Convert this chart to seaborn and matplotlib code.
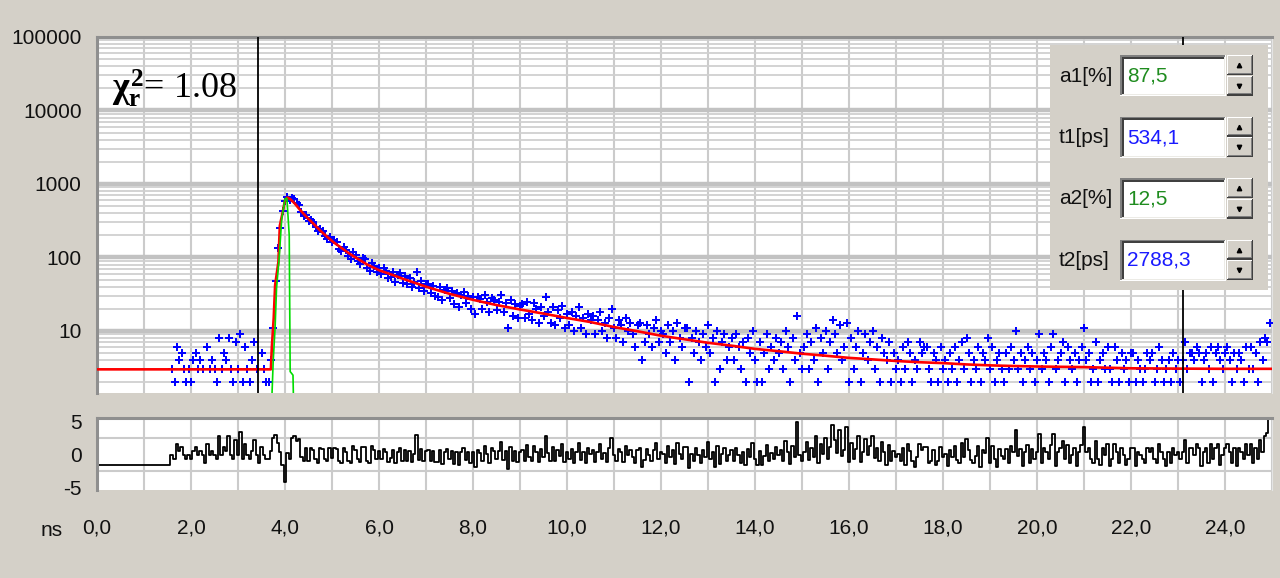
import numpy as np
import matplotlib
matplotlib.use("Agg")
import matplotlib.pyplot as plt
import matplotlib.ticker as mticker
from matplotlib.patches import Rectangle
import seaborn as sns

# ---------------------------------------------------
# data (TCSPC decay + fit)
# ---------------------------------------------------
channel_start = 1.60   # ns, first channel that holds counts
channel_width = 0.05   # ns

# 1.60 .. 3.70 ns, background before the pulse
counts_baseline = [3, 2, 6, 4, 5, 3, 2, 3, 2, 4,
                   5, 3, 4, 3, 1, 6, 3, 4, 3, 2,
                   8, 3, 5, 4, 8, 3, 2, 7, 3, 9,
                   2, 6, 3, 2, 4, 7, 3, 1, 5, 3,
                   2, 2, 4]
# 3.75 .. 4.00 ns, rising edge
counts_rise = [11, 48, 135, 250, 430, 580]
# 4.05 .. 24.95 ns, decay (10 channels per row = 0.5 ns)
counts_decay = [
    662, 612, 650, 615, 552, 512, 418, 371, 379, 316,
    327, 302, 258, 229, 247, 230, 194, 176, 191, 161,
    171, 160, 131, 121, 140, 126, 104, 96, 117, 108,
    90, 81, 99, 95, 72, 66, 85, 77, 63, 72,
    60, 71, 66, 52, 55, 63, 47, 58, 61, 45,
    56, 43, 52, 39, 47, 64, 38, 48, 35, 44,
    44, 33, 41, 30, 29, 39, 26, 36, 38, 28,
    35, 23, 33, 21, 31, 34, 24, 30, 20, 29,
    17, 29, 27, 20, 31, 25, 18, 28, 26, 19,
    25, 31, 18, 24, 11, 26, 16, 23, 15, 22,
    23, 15, 25, 17, 14, 24, 20, 13, 21, 16,
    29, 18, 13, 21, 12, 19, 15, 22, 11, 17,
    12, 18, 10, 16, 21, 11, 15, 9, 17, 14,
    16, 9, 14, 18, 10, 13, 8, 15, 20, 11,
    8, 14, 12, 7, 15, 10, 13, 9, 6, 12,
    13, 4, 7, 12, 9, 6, 11, 14, 7, 10,
    9, 5, 12, 7, 10, 4, 13, 8, 6, 11,
    11, 2, 8, 5, 10, 7, 4, 9, 6, 12,
    5, 8, 2, 10, 3, 7, 9, 4, 6, 8,
    4, 9, 6, 3, 7, 2, 8, 5, 10, 4,
    2, 7, 2, 5, 9, 3, 6, 4, 8, 5,
    7, 3, 10, 6, 2, 8, 4, 16, 5, 3,
    6, 9, 3, 7, 4, 11, 2, 8, 5, 10,
    3, 7, 14, 9, 5, 12, 4, 6, 13, 2,
    8, 3, 6, 10, 2, 5, 9, 4, 7, 10,
    3, 6, 2, 8, 5, 4, 7, 2, 5, 3,
    4, 2, 6, 3, 7, 5, 2, 4, 3, 7,
    5, 6, 6, 3, 2, 5, 4, 2, 6, 3,
    4, 2, 5, 3, 6, 2, 4, 7, 3, 8,
    5, 2, 4, 3, 6, 2, 5, 4, 8, 3,
    6, 2, 4, 5, 3, 2, 5, 3, 6, 4,
    10, 3, 5, 2, 4, 6, 3, 5, 2, 4,
    9, 3, 5, 4, 2, 6, 9, 3, 4, 5,
    7, 2, 6, 4, 3, 5, 2, 4, 6, 11,
    4, 5, 2, 3, 7, 2, 4, 5, 3, 6,
    3, 2, 6, 4, 2, 5, 3, 4, 2, 5,
    5, 2, 4, 3, 2, 3, 5, 4, 5, 2,
    3, 6, 4, 2, 3, 4, 2, 5, 3, 4,
    2, 4, 7, 3, 5, 5, 4, 6, 5, 2,
    4, 5, 3, 6, 2, 5, 6, 4, 3, 5,
    6, 4, 2, 5, 3, 5, 4, 2, 6, 3,
    6, 3, 5, 2, 7, 4, 8, 7, 13,
]

# weighted residuals, same channels
resid_flat_t = [0.0, 1.50]
resid_flat = [-1.6, -1.6]
resid_baseline = [0.0, -0.6, 1.7, 0.6, 1.2, 0.0, -0.6, 0.0, -0.6, 0.6,
                  1.2, 0.0, 0.6, 0.0, -1.2, 1.7, 0.0, 0.6, 0.0, -0.6,
                  2.9, 0.0, 1.2, 0.6, 2.9, 0.0, -0.6, 2.3, 0.0, 3.5,
                  -0.6, 1.7, 0.0, -0.6, 0.6, 2.3, 0.0, -1.2, 1.2, 0.0,
                  -0.6, -0.6, 0.6]
resid_rise = [2.6, 3.0, 1.8, 0.5, -1.5, -4.2]
resid_decay = [
    0.3, -0.7, 2.5, 2.8, 2.1, 2.4, -0.3, -1.0, 1.0, -1.0,
    1.0, 0.7, -0.7, -1.3, 1.0, 0.9, -0.6, -1.0, 1.0, -0.5,
    1.0, 0.9, -0.9, -1.2, 1.1, 0.5, -1.0, -1.3, 1.3, 0.8,
    -0.6, -1.1, 1.2, 1.2, -0.9, -1.3, 1.3, 0.7, -0.7, 0.6,
    -0.6, 0.9, 0.5, -1.1, -0.5, 0.7, -1.2, 0.5, 1.1, -0.9,
    0.8, -0.9, 0.6, -1.1, 0.2, 3.0, -0.8, 0.9, -0.9, 0.6,
    0.8, -0.9, 0.6, -1.1, -1.1, 0.7, -1.4, 0.4, 0.9, -0.7,
    0.6, -1.4, 0.5, -1.6, 0.4, 1.0, -0.8, 0.5, -1.3, 0.5,
    -1.8, 0.7, 0.3, -1.0, 1.3, 0.2, -1.2, 1.0, 0.6, -0.7,
    0.6, 1.9, -0.8, 0.6, -2.2, 1.2, -1.0, 0.6, -1.1, 0.5,
    0.8, -0.9, 1.5, -0.3, -1.0, 1.4, 0.5, -1.1, 0.9, -0.3,
    2.9, 0.3, -0.9, 1.2, -1.0, 0.8, -0.2, 1.7, -1.1, 0.5,
    -0.7, 0.9, -1.2, 0.4, 1.8, -0.8, 0.4, -1.2, 1.0, 0.2,
    0.8, -1.1, 0.4, 1.6, -0.7, 0.3, -1.1, 1.0, 2.5, -0.1,
    -0.9, 0.9, 0.4, -1.1, 1.4, -0.1, 0.8, -0.3, -1.3, 0.7,
    1.0, -1.8, -0.8, 0.9, -0.1, -1.0, 0.7, 1.8, -0.6, 0.5,
    0.2, -1.2, 1.3, -0.4, 0.7, -1.4, 1.8, 0.1, -0.6, 1.2,
    1.2, -2.0, 0.2, -0.9, 1.0, -0.1, -1.2, 0.7, -0.4, 1.9,
    -0.7, 0.5, -1.8, 1.3, -1.4, 0.2, 1.0, -0.9, -0.1, 0.7,
    -0.9, 1.1, 0.0, -1.2, 0.4, -1.6, 0.9, -0.3, 1.8, -0.7,
    -1.5, 0.6, -1.5, -0.2, 1.5, -1.0, 0.3, -0.6, 1.2, -0.1,
    0.8, -1.0, 2.1, 0.4, -1.4, 1.3, -0.4, 5.0, 0.0, -0.9,
    0.5, 1.9, -0.8, 1.0, -0.3, 2.9, -1.2, 1.6, 0.2, 2.5,
    -0.7, 1.2, 4.5, 2.2, 0.3, 3.7, -0.2, 0.8, 4.2, -1.1,
    1.8, -0.6, 0.9, 2.8, -1.1, 0.4, 2.4, -0.1, 1.4, 2.9,
    -0.5, 1.0, -1.0, 2.0, 0.5, -1.6, 1.5, -1.0, 0.6, -0.4,
    0.1, -0.9, 1.1, -1.5, 1.6, 0.6, -0.9, -1.8, -0.4, 1.7,
    0.7, 1.2, 1.2, -1.3, -0.9, 0.7, -1.6, -0.9, 1.2, -0.3,
    0.2, -1.7, 0.8, -0.3, 1.3, -0.8, -1.2, 1.8, -0.3, 2.4,
    0.8, -0.8, -1.3, -0.2, 1.4, -1.8, 0.8, 0.3, 2.5, -1.2,
    1.4, -0.7, -1.8, 0.9, -0.2, -0.7, 0.9, -1.2, 1.4, 0.4,
    3.7, -0.2, 0.9, -1.7, 0.4, 1.5, -1.2, 0.9, -0.7, 0.4,
    3.2, -1.2, 1.0, 0.4, -0.7, 1.5, 3.2, -1.7, 0.4, 1.0,
    2.1, -0.7, 1.5, -1.3, -0.1, 1.0, -1.7, 0.4, 1.5, 4.3,
    0.5, 1.0, -0.7, -1.2, 2.1, -0.7, -1.6, 1.0, -0.1, 1.6,
    -1.7, -0.6, 1.6, 0.5, -1.2, 1.1, -0.1, -1.6, -0.6, 1.1,
    1.1, -1.7, 0.5, -0.1, -0.6, -1.2, 1.1, 0.5, 1.1, -0.6,
    -1.2, 1.7, 0.5, -0.6, -1.7, 0.5, -1.2, 1.1, -0.1, 0.5,
    -0.6, 0.5, 2.2, -1.2, 1.1, 1.1, -0.1, 1.7, 1.1, -1.7,
    0.5, 1.1, -1.2, 1.7, -0.6, 1.1, 1.7, -1.6, -0.1, 1.1,
    1.7, 0.5, -1.2, 1.1, -1.7, 1.1, 0.5, -0.6, 1.7, -0.1,
    1.7, -1.2, 1.1, -0.6, 2.3, 0.5, 2.8, 3.3, 5.5,
]

# fitted curve (red) and instrument response (green)
fit_t = [0.0, 3.70, 3.72, 3.76, 3.79, 3.86, 3.89, 3.95, 4.00,
         4.05, 4.10, 4.20, 4.30, 4.45, 4.60, 4.75, 4.90,
         5.05, 5.20, 5.35, 5.50, 5.75, 6.00, 6.25, 6.50, 6.75, 7.00,
         7.5, 8.0, 8.5, 9.0, 9.5, 10.0, 10.5, 11.0, 11.5, 12.0, 12.5,
         13.0, 13.5, 14.0, 14.5, 15.0, 15.5, 16.0, 16.5, 17.0, 17.5,
         18.0, 18.5, 19.0, 19.5, 20.0, 21.0, 22.0, 23.0, 24.0, 25.0]
fit_v = [3.0, 3.0, 6.0, 15, 42, 87, 270, 410, 600,
         655, 630, 550, 460, 360, 290, 232, 190,
         158, 135, 115, 100, 80, 67, 59, 51.5, 45.4, 40,
         32, 26.5, 22.5, 19.6, 17.2, 15.0, 13.2, 11.3, 9.9, 8.6, 7.7,
         6.9, 6.3, 5.7, 5.3, 4.9, 4.6, 4.3, 4.1, 3.9, 3.75,
         3.65, 3.5, 3.4, 3.33, 3.28, 3.22, 3.1, 3.07, 3.05, 3.05]
irf_t = [3.72, 3.75, 3.79, 3.82, 3.88, 3.93, 4.00, 4.04, 4.09, 4.11, 4.17, 4.18]
irf_v = [1.2, 4.0, 11.4, 38, 107, 334, 625, 640, 200, 2.8, 2.5, 1.2]

cursor_t = [3.43, 23.1]

y_ticks = [10, 100, 1000, 10000, 100000]
y_tick_labels = ["10", "100", "1000", "10000", "100000"]
x_ticks = [0, 2, 4, 6, 8, 10, 12, 14, 16, 18, 20, 22, 24]
x_tick_labels = ["0,0", "2,0", "4,0", "6,0", "8,0", "10,0", "12,0",
                 "14,0", "16,0", "18,0", "20,0", "22,0", "24,0"]
x_minor = [1, 3, 5, 7, 9, 11, 13, 15, 17, 19, 21, 23, 25]
grid_ns = list(range(26))
res_ticks = [-5, 0, 5]
res_tick_labels = ["-5", "0", "5"]

param_names = ["a1[%]", "t1[ps]", "a2[%]", "t2[ps]"]
param_values = ["87,5", "534,1", "12,5", "2788,3"]
param_colors = ["#1f8c1f", "#1a1aff", "#1f8c1f", "#1a1aff"]
chi2_value = "1.08"

# ---------------------------------------------------
counts = counts_baseline + counts_rise + counts_decay
t_counts = channel_start + channel_width * np.arange(len(counts))
resid_t = resid_flat_t + list(t_counts)
resid_v = resid_flat + resid_baseline + resid_rise + resid_decay

BG = "#d4d0c8"
GRID = "#cbcbcb"
W, H = 1280, 578
FS = 15

sns.set_style("white")
plt.rcParams["font.family"] = ["Liberation Sans", "DejaVu Sans"]
plt.rcParams["mathtext.fontset"] = "custom"
plt.rcParams["mathtext.rm"] = "Liberation Serif:bold"
plt.rcParams["mathtext.it"] = "Liberation Serif:bold"
plt.rcParams["mathtext.bf"] = "Liberation Serif:bold"


def px_box(x0, y0, x1, y1):
    return [x0 / W, 1 - y1 / H, (x1 - x0) / W, (y1 - y0) / H]


fig = plt.figure(figsize=(12.8, 5.78), dpi=100, facecolor=BG)
ax = fig.add_axes(px_box(97, 37, 1272, 393))
ax_r = fig.add_axes(px_box(97, 418, 1272, 490))

# ---- main decay plot ----
sns.scatterplot(x=t_counts, y=counts, ax=ax, marker="P", s=30,
                color="#0000ff", linewidth=0, zorder=3)
sns.lineplot(x=fit_t, y=fit_v, ax=ax, color="#ff0000", linewidth=1.9,
             estimator=None, zorder=4)
sns.lineplot(x=irf_t, y=irf_v, ax=ax, color="#00dd00", linewidth=1.2,
             estimator=None, zorder=5)
for c in cursor_t:
    ax.axvline(c, color="black", lw=1.3, zorder=6)

ax.set_yscale("log")
ax.set_xlim(0, 25)
ax.set_ylim(1.43, 100000)
ax.set_xticks(grid_ns)
ax.set_yticks(y_ticks, y_tick_labels)
ax.yaxis.set_minor_locator(mticker.LogLocator(base=10, subs=np.arange(2, 10)))
ax.yaxis.set_minor_formatter(mticker.NullFormatter())
ax.set_axisbelow(True)
ax.grid(axis="x", which="major", color=GRID, lw=1.5)
ax.grid(axis="y", which="minor", color="#d0d0d0", lw=1.3)
ax.grid(axis="y", which="major", color="#c2c2c2", lw=3.2)
ax.tick_params(axis="x", which="both", length=0, labelbottom=False)
ax.tick_params(axis="y", which="minor", length=0)
ax.tick_params(axis="y", which="major", length=9, width=1.5, pad=2,
               labelsize=FS, colors="#111111")
ax.set_xlabel("")
ax.set_ylabel("")
for side in ["top", "left"]:
    ax.spines[side].set_color("#8f8f8f")
    ax.spines[side].set_linewidth(2.2)
ax.spines["right"].set_color("#e4e4e4")
ax.spines["bottom"].set_visible(False)

fig.text(112 / W, 1 - 98 / H, rf"$\chi_r^2$= {chi2_value}", fontsize=26,
         family="Liberation Serif", va="baseline", ha="left", color="black")

# ---- residuals ----
sns.lineplot(x=resid_t, y=resid_v, ax=ax_r, color="black", linewidth=1.3,
             drawstyle="steps-mid", estimator=None)
ax_r.set_xlim(0, 25)
ax_r.set_ylim(-5.35, 5.6)
ax_r.set_xticks(x_ticks, x_tick_labels)
ax_r.set_xticks(x_minor, minor=True)
ax_r.set_yticks(res_ticks, res_tick_labels)
ax_r.set_yticks([-2.5, 2.5], minor=True)
ax_r.set_axisbelow(True)
ax_r.grid(axis="x", which="both", color=GRID, lw=1.5)
ax_r.grid(axis="y", which="minor", color=GRID, lw=1.5)
ax_r.tick_params(axis="x", which="major", length=11.5, width=1.5, pad=7,
                 labelsize=FS, colors="#111111")
ax_r.tick_params(axis="x", which="minor", length=6.5, width=1.5, colors="#111111")
ax_r.tick_params(axis="y", which="major", length=9, width=1.5, pad=2,
                 labelsize=FS, colors="#111111")
ax_r.tick_params(axis="y", which="minor", length=5.5, width=1.5, colors="#111111")
ax_r.set_xlabel("")
ax_r.set_ylabel("")
for side in ["top", "left"]:
    ax_r.spines[side].set_color("#8f8f8f")
    ax_r.spines[side].set_linewidth(2.2)
ax_r.spines["right"].set_color("#e4e4e4")
ax_r.spines["bottom"].set_position(("outward", 2))
ax_r.spines["bottom"].set_color("none")

fig.text(52 / W, 1 - 531 / H, "ns", fontsize=FS, ha="center", va="center",
         color="#111111")

# ---- parameter panel ----
ax_p = fig.add_axes(px_box(1050, 45, 1268, 290), zorder=10)
ax_p.set_xlim(0, 218)
ax_p.set_ylim(245, 0)
ax_p.axis("off")
ax_p.add_patch(Rectangle((0, 0), 218, 245, facecolor=BG, edgecolor="none"))
for i, (name, value, colour) in enumerate(zip(param_names, param_values, param_colors)):
    top = 10 + 61.5 * i
    ax_p.add_patch(Rectangle((70, top), 106, 41, fc="#ffffff", ec="none"))
    ax_p.add_patch(Rectangle((70, top), 105, 40, fc="#808080", ec="none"))
    ax_p.add_patch(Rectangle((71.5, top + 1.5), 103.5, 38.5, fc="#ecebe6", ec="none"))
    ax_p.add_patch(Rectangle((71.5, top + 1.5), 102.5, 37.5, fc="#404040", ec="none"))
    ax_p.add_patch(Rectangle((73.5, top + 3.5), 100.5, 35.5, fc="#ffffff", ec="none"))
    ax_p.text(9, top + 21, name, fontsize=FS, ha="left", va="center", color="#111111")
    ax_p.text(77, top + 21, value, fontsize=FS, ha="left", va="center", color=colour)
    for k, glyph in enumerate(["^", "v"]):
        bx, by, bw, bh = 177, top + 20.5 * k, 26, 20
        ax_p.add_patch(Rectangle((bx, by), bw, bh, fc="#404040", ec="none"))
        ax_p.add_patch(Rectangle((bx, by), bw - 1.2, bh - 1.2, fc="#ffffff", ec="none"))
        ax_p.add_patch(Rectangle((bx + 1.2, by + 1.2), bw - 2.4, bh - 2.4, fc="#808080", ec="none"))
        ax_p.add_patch(Rectangle((bx + 1.2, by + 1.2), bw - 3.6, bh - 3.6, fc=BG, ec="none"))
        ax_p.plot(bx + bw / 2 - 0.6, by + bh / 2, marker=glyph, color="black",
                  markersize=3.2, linestyle="none")

fig.savefig("out.png", dpi=100, facecolor=BG)
